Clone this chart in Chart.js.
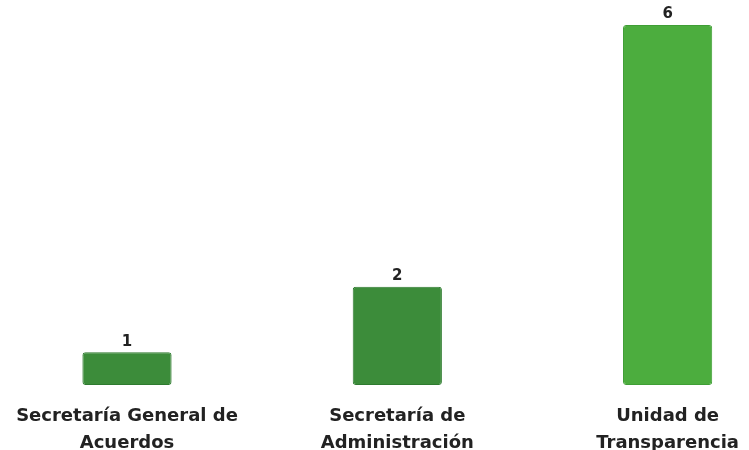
<!DOCTYPE html>
<html>
<head>
<meta charset="utf-8">
<script src="https://cdn.jsdelivr.net/npm/chart.js@4/dist/chart.umd.min.js"></script>
<style>
  html, body { margin: 0; padding: 0; background: #ffffff; }
  #wrap { width: 749px; height: 450px; }
</style>
</head>
<body>
<div id="wrap"><canvas id="barChart" width="749" height="450"></canvas></div>
<script>
// chart data
const areas = [
    ['Secretaría General de', 'Acuerdos'],
    ['Secretaría de', 'Administración'],
    ['Unidad de', 'Transparencia']
];
const counts = [1, 2, 6];
const barColors = ['#3c8c3a', '#3c8c3a', '#4cad3e'];
const barBorders = ['#2e7a2f', '#2e7a2f', '#3f9e35'];
const axisFloor = 0.5;

// draws the value above each bar
const valueLabels = {
    id: 'valueLabels',
    afterDatasetsDraw(chart) {
        const ctx = chart.ctx;
        const meta = chart.getDatasetMeta(0);
        ctx.save();
        ctx.font = 'bold 15px "DejaVu Sans", sans-serif';
        ctx.fillStyle = '#222222';
        ctx.textAlign = 'center';
        ctx.textBaseline = 'bottom';
        meta.data.forEach((bar, i) => {
            ctx.fillText(String(counts[i]), bar.x, bar.y - 3);
        });
        ctx.restore();
    }
};

new Chart(document.getElementById('barChart'), {
    type: 'bar',
    data: {
        labels: areas,
        datasets: [{
            data: counts,
            base: axisFloor,
            backgroundColor: barColors,
            borderColor: barBorders,
            borderWidth: 1,
            borderRadius: 3,
            borderSkipped: false,
            categoryPercentage: 1,
            barPercentage: 0.33,
            clip: false
        }]
    },
    options: {
        responsive: false,
        animation: false,
        layout: { padding: { top: 25, left: 127, right: 77, bottom: -17 } },
        plugins: {
            legend: { display: false },
            tooltip: { enabled: false }
        },
        scales: {
            x: {
                offset: false,
                grid: { display: false },
                border: { display: false },
                ticks: {
                    maxRotation: 0,
                    autoSkip: false,
                    padding: 10,
                    color: '#222222',
                    font: { family: '"DejaVu Sans", sans-serif', size: 18, weight: 'bold', lineHeight: '27px' }
                }
            },
            y: {
                display: false,
                min: axisFloor,
                max: 6
            }
        }
    },
    plugins: [valueLabels]
});
</script>
</body>
</html>
